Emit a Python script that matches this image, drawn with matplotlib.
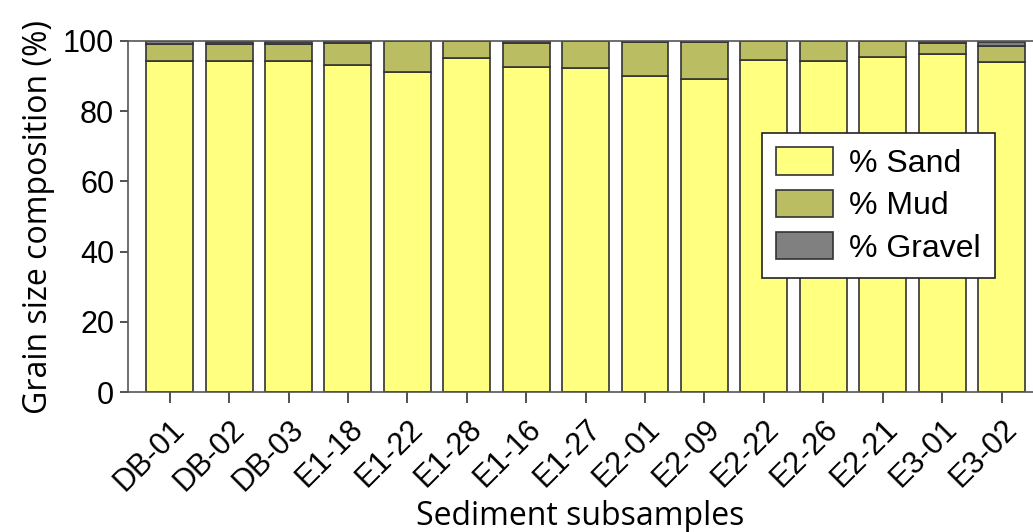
import numpy as np
import matplotlib.pyplot as plt

samples = ["DB-01", "DB-02", "DB-03", "E1-18", "E1-22", "E1-28", "E1-16", "E1-27",
           "E2-01", "E2-09", "E2-22", "E2-26", "E2-21", "E3-01", "E3-02"]
sand = [94.3, 94.3, 94.3, 93.1, 91.1, 95.2, 92.7, 92.4, 90.1, 89.2, 94.6, 94.2, 95.5, 96.2, 93.9]
mud = [4.9, 4.9, 4.9, 6.4, 8.8, 4.8, 6.8, 7.6, 9.5, 10.4, 5.4, 5.8, 4.5, 3.1, 4.8]
gravel = [0.7, 0.6, 0.6, 0.4, 0.1, 0.0, 0.4, 0.0, 0.3, 0.3, 0.0, 0.0, 0.0, 0.6, 1.1]


def main():
	plt.rcParams['font.family'] = ['Liberation Sans', 'DejaVu Sans']
	fig = plt.figure(figsize=(10.33, 5.32), dpi=100)
	ax = fig.add_axes([0.124, 0.263, 0.876, 0.66])

	x = np.arange(len(samples))
	sand_a = np.array(sand)
	mud_a = np.array(mud)
	gravel_a = np.array(gravel)
	w = 0.79
	edge = '#333333'

	ax.bar(x, sand_a, w, color='#ffff80', edgecolor=edge, linewidth=1.2, label='% Sand')
	ax.bar(x, mud_a, w, bottom=sand_a, color='#babd62', edgecolor=edge, linewidth=1.2, label='% Mud')
	ax.bar(x, gravel_a, w, bottom=sand_a + mud_a, color='#808080', edgecolor=edge, linewidth=1.2, label='% Gravel')

	ax.set_xlim(-0.7, 14.53)
	ax.set_ylim(0, 100)
	ax.set_yticks([0, 20, 40, 60, 80, 100])
	ax.set_xticks(x)
	ax.set_xticklabels(samples, rotation=45, ha='right', rotation_mode='anchor')
	ax.tick_params(axis='both', labelsize=22, direction='out', color='#333333', width=1.2)
	ax.tick_params(axis='x', length=8, pad=8)
	ax.tick_params(axis='y', length=6, pad=4)

	for s in ['left', 'bottom', 'top']:
		ax.spines[s].set_color('#555555')
		ax.spines[s].set_linewidth(1.2)
	ax.spines['right'].set_visible(False)

	ax.set_ylabel('Grain size composition (%)', fontsize=23, family=['Open Sans', 'DejaVu Sans'], labelpad=6)
	ax.set_xlabel('Sediment subsamples', fontsize=23, family=['Open Sans', 'DejaVu Sans'], labelpad=2)

	leg = ax.legend(loc='upper left', bbox_to_anchor=(0.70, 0.738), borderaxespad=0, fontsize=23,
		frameon=True, fancybox=False, edgecolor='#222222', framealpha=1, handlelength=1.8,
		handleheight=0.95, borderpad=0.45, labelspacing=0.33, handletextpad=0.5)
	leg.get_frame().set_linewidth(1.2)

	fig.savefig('out.png', dpi=100)


if __name__ == "__main__":
	main()
